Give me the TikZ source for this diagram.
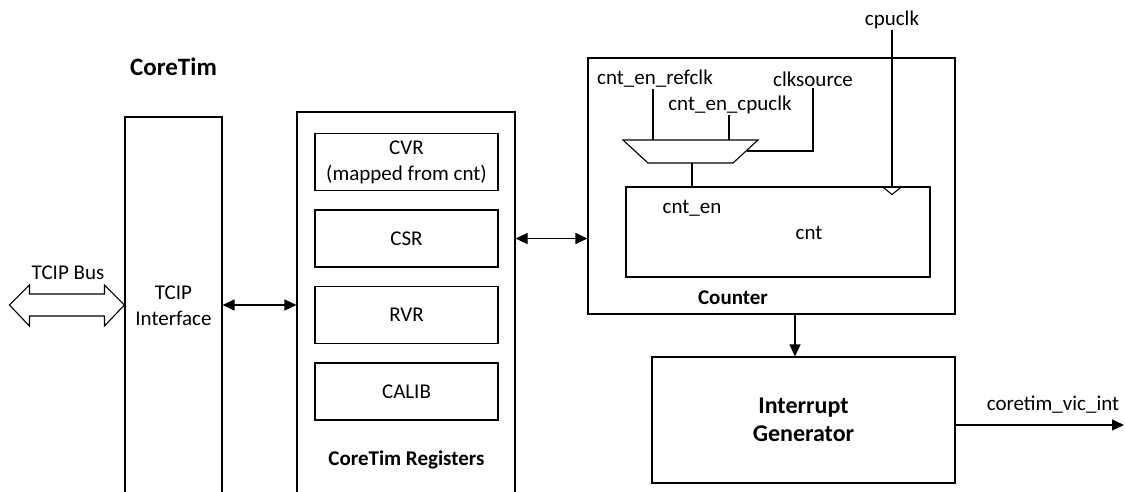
\documentclass[tikz,border=0pt]{standalone}
\usepackage{fontspec}
\setmainfont{Carlito}
\usetikzlibrary{positioning, arrows.meta}

\begin{document}
\begin{tikzpicture}[x=1pt, y=-1pt,
  box/.style={draw, line width=1.1pt, inner sep=0pt},
  txt/.style={font=\fontsize{21}{26}\selectfont, align=center, inner sep=1pt},
  bold/.style={txt, font=\fontsize{21}{26}\selectfont\bfseries},
  reg/.style={txt, draw, line width=1.1pt, minimum width=183pt, minimum height=57pt},
  wire/.style={line width=1.1pt},
  arr/.style={wire, -{Triangle[length=12pt, width=11pt]}},
  darr/.style={wire, {Triangle[length=12pt, width=11pt]}-{Triangle[length=12pt, width=11pt]}}]
  \useasboundingbox (0,0) rectangle (1125,492);
  \clip (0,0) rectangle (1125,492);

  % bus interface
  \node[bold, font=\fontsize{25}{30}\selectfont\bfseries] (title) at (173.5,67) {CoreTim};
  \node[box, minimum width=97pt, minimum height=390pt] (tcip) at (173.5,312) {};
  \node[txt] (tciptxt) at (173.5,306) {TCIP\\Interface};
  \coordinate (bus) at (tcip.west |- 0,305);
  \draw[wire, fill=white] (bus) -- ++(-20,-20) -- ++(0,9) -- ++(-75,0) -- ++(0,-9)
    -- ++(-20,20) -- ++(20,21) -- ++(0,-10) -- ++(75,0) -- ++(0,10) -- cycle;
  \node[txt] (buslbl) at (68,273) {TCIP Bus};

  % registers
  \node[box, minimum width=218pt, minimum height=395pt] (regs) at (406,309.5) {};
  \node[reg] (cvr) at (406.5,162) {CVR\\(mapped from cnt)};
  \node[reg] (csr) at (406.5,238.5) {CSR};
  \node[reg] (rvr) at (406.5,315) {RVR};
  \node[reg] (calib) at (406.5,391.5) {CALIB};
  \node[bold] (reglbl) at (406.5,460) {CoreTim Registers};

  % counter
  \node[box, minimum width=367pt, minimum height=256pt] (counter) at (771.5,186) {};
  \node[box, minimum width=304pt, minimum height=90pt] (cnt) at (778,232) {};
  \node[txt] (cnten) at (692,208) {cnt\_en};
  \node[txt] (cntlbl) at (809,233) {cnt};
  \node[bold] (ctrlbl) at (733,298) {Counter};

  % clock enable mux
  \draw[wire] (623,140) -- (758,140) -- (733,163) -- (648,163) -- cycle;
  \coordinate (mux-a) at (653,140);
  \coordinate (mux-b) at (729,140);
  \coordinate (mux-c) at (747,151);
  \coordinate (mux-o) at (692,163);
  \node[txt] (refclk) at (655,79) {cnt\_en\_refclk};
  \node[txt] (cpuen) at (730,105) {cnt\_en\_cpuclk};
  \node[txt] (clksrc) at (813,79) {clksource};
  \draw[wire] (refclk.south -| mux-a) -- (mux-a);
  \draw[wire] (cpuen.south -| mux-b) -- (mux-b);
  \draw[wire] (clksrc.south) |- (mux-c);
  \draw[wire] (mux-o) -- (mux-o |- cnt.north);

  % clock input
  \node[txt] (cpuclk) at (892,20) {cpuclk};
  \coordinate (clk) at (cpuclk.south |- cnt.north);
  \draw[wire] (cpuclk.south) -- (clk);
  \draw[wire] ([xshift=-10pt]clk) -- ++(10,8) -- ++(10,-8);

  % interrupt
  \node[box, bold, font=\fontsize{24}{28}\selectfont\bfseries, minimum width=303pt,
        minimum height=126pt] (intgen) at (803.5,420) {Interrupt\\Generator};
  \coordinate (intout) at (1124,425);
  \node[txt] (intlbl) at (1053,405) {coretim\_vic\_int};

  % connectors
  \draw[darr] (tcip.east |- bus) -- (regs.west |- bus);
  \draw[darr] (regs.east |- csr) -- (counter.west |- csr);
  \coordinate (drop) at ([xshift=-8.5pt]intgen.north);
  \draw[arr] (drop |- counter.south) -- (drop);
  \draw[arr] (intgen.east |- intout) -- (intout);
\end{tikzpicture}
\end{document}
